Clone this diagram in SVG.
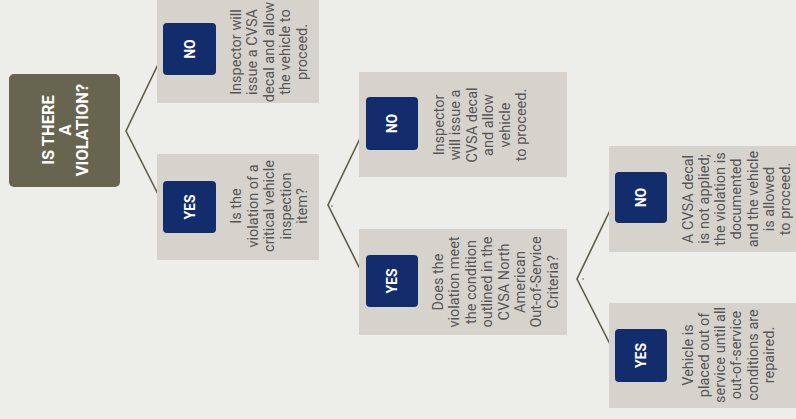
<svg xmlns="http://www.w3.org/2000/svg" width="796" height="419" viewBox="0 0 796 419">
<style>
.card{fill:#d6d3cc}
.badge{fill:#132c6b}
.root{fill:#676550}
.conn{fill:none;stroke:#5f5d47;stroke-width:1.6}
.bt{font-family:Roboto,"Liberation Sans",sans-serif;font-weight:bold;font-size:14px;fill:#ffffff;text-anchor:middle}
.rt{font-family:Roboto,"Liberation Sans",sans-serif;font-weight:bold;font-size:16.5px;fill:#ffffff;text-anchor:middle}
.ct{font-family:Roboto,"Liberation Sans",sans-serif;font-size:14.5px;fill:#555555;text-anchor:middle}
</style>
<rect width="796" height="419" fill="#ededE9"/>
<g id="connectors">
<path class="conn" d="M164,52 L126,131 L163,204"/>
<path class="conn" d="M365,128 L328,205 L365,279"/>
<path class="conn" d="M614,202 L577,279 L614,352"/>
<circle cx="332" cy="206" r="0.8" fill="#5f5d47"/>
<circle cx="583" cy="279" r="0.8" fill="#5f5d47"/>
</g>
<g id="root">
<rect class="root" x="9" y="74" width="111" height="113" rx="5"/>
<text class="rt" transform="translate(54,130) rotate(-90)"><tspan x="0" y="0">IS THERE</tspan><tspan x="0" y="17">A</tspan><tspan x="0" y="34">VIOLATION?</tspan></text>
</g>
<g id="no1">
<rect class="card" x="157" y="-3" width="162" height="106"/>
<rect class="badge" x="163" y="23" width="53" height="52" rx="4"/>
<text class="bt" transform="translate(194.5,49) rotate(-90)">NO</text>
<text class="ct" transform="translate(240.5,52) rotate(-90)"><tspan x="0" y="0">Inspector will</tspan><tspan x="0" y="16.5">issue a CVSA</tspan><tspan x="0" y="33">decal and allow</tspan><tspan x="0" y="49.5">the vehicle to</tspan><tspan x="0" y="66">proceed.</tspan></text>
</g>
<g id="yes1">
<rect class="card" x="157" y="154" width="162" height="106"/>
<rect class="badge" x="163" y="181" width="53" height="52" rx="4"/>
<text class="bt" transform="translate(194.5,207) rotate(-90)">YES</text>
<text class="ct" transform="translate(241,206) rotate(-90)"><tspan x="0" y="0">Is the</tspan><tspan x="0" y="16.5">violation of a</tspan><tspan x="0" y="33">critical vehicle</tspan><tspan x="0" y="49.5">inspection</tspan><tspan x="0" y="66">item?</tspan></text>
</g>
<g id="no2">
<rect class="card" x="359" y="72" width="208" height="105"/>
<rect class="badge" x="366" y="97" width="52" height="53" rx="4"/>
<text class="bt" transform="translate(397,123.5) rotate(-90)">NO</text>
<text class="ct" transform="translate(443.5,125) rotate(-90)"><tspan x="0" y="0">Inspector</tspan><tspan x="0" y="16.5">will issue a</tspan><tspan x="0" y="33">CVSA decal</tspan><tspan x="0" y="49.5">and allow</tspan><tspan x="0" y="66">vehicle</tspan><tspan x="0" y="82.5">to proceed.</tspan></text>
</g>
<g id="yes2">
<rect class="card" x="359" y="229" width="208" height="106"/>
<rect class="badge" x="366" y="255" width="52" height="52" rx="4"/>
<text class="bt" transform="translate(397,281) rotate(-90)">YES</text>
<text class="ct" transform="translate(443,282) rotate(-90)"><tspan x="0" y="0">Does the</tspan><tspan x="0" y="16.4">violation meet</tspan><tspan x="0" y="32.8">the condition</tspan><tspan x="0" y="49.2">outlined in the</tspan><tspan x="0" y="65.6">CVSA North</tspan><tspan x="0" y="82">American</tspan><tspan x="0" y="98.4">Out-of-Service</tspan><tspan x="0" y="114.8">Criteria?</tspan></text>
</g>
<g id="no3">
<rect class="card" x="609" y="146" width="200" height="106"/>
<rect class="badge" x="615" y="172" width="52" height="51" rx="4"/>
<text class="bt" transform="translate(646,197.5) rotate(-90)">NO</text>
<text class="ct" transform="translate(692.5,199) rotate(-90)"><tspan x="0" y="0">A CVSA decal</tspan><tspan x="0" y="16.3">is not applied;</tspan><tspan x="0" y="32.6">the violation is</tspan><tspan x="0" y="48.9">documented</tspan><tspan x="0" y="65.2">and the vehicle</tspan><tspan x="0" y="81.5">is allowed</tspan><tspan x="0" y="97.8">to proceed.</tspan></text>
</g>
<g id="yes3">
<rect class="card" x="609" y="303" width="200" height="105"/>
<rect class="badge" x="615" y="329" width="52" height="53" rx="4"/>
<text class="bt" transform="translate(646,355.5) rotate(-90)">YES</text>
<text class="ct" transform="translate(692.5,355) rotate(-90)"><tspan x="0" y="0">Vehicle is</tspan><tspan x="0" y="16.3">placed out of</tspan><tspan x="0" y="32.6">service until all</tspan><tspan x="0" y="48.9">out-of-service</tspan><tspan x="0" y="65.2">conditions are</tspan><tspan x="0" y="81.5">repaired.</tspan></text>
</g>
</svg>
